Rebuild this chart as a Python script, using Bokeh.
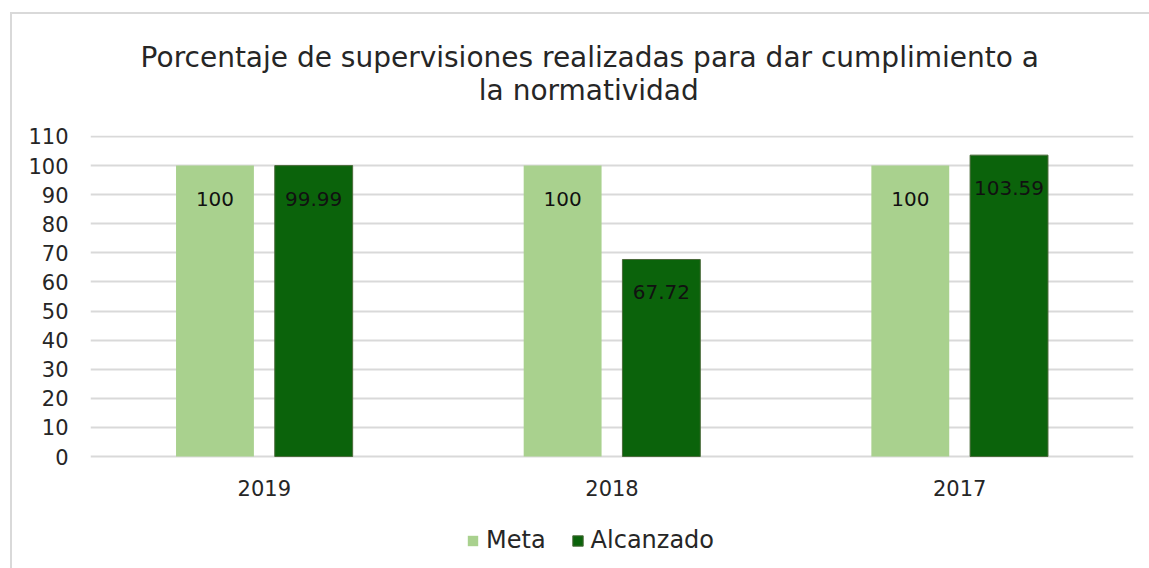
from bokeh.plotting import figure
from bokeh.models import (ColumnDataSource, FactorRange, Range1d, LabelSet, Legend,
                          LegendItem, FixedTicker)
from bokeh.core.properties import value
from bokeh.transform import dodge
from bokeh.embed import file_html
from bokeh.resources import INLINE

years = ["2019", "2018", "2017"]
meta = [100, 100, 100]
alcanzado = [99.99, 67.72, 103.59]
meta_labels = ["100", "100", "100"]
alc_labels = ["99.99", "67.72", "103.59"]
y_ticks = list(range(0, 111, 10))
title_lines = ["Porcentaje de supervisiones realizadas para dar cumplimiento a",
               "la normatividad"]

FONT = "DejaVu Sans"
TXT = "#262626"

src = ColumnDataSource(dict(years=years, meta=meta, alcanzado=alcanzado,
                            base=[0] * len(years),
                            meta_lbl=meta_labels, alc_lbl=alc_labels))

# the frame extends below zero so that the category labels and legend can sit inside it
p = figure(x_range=FactorRange(*years, range_padding=0), y_range=Range1d(-37.8, 110.34),
           frame_width=1043, frame_height=431, output_backend="svg", toolbar_location=None,
           min_border_left=90, min_border_right=16, min_border_top=135, min_border_bottom=2)
p.outline_line_color = None
p.border_fill_color = None
p.styles = {
    "background-image": "linear-gradient(#d9d9d9, #d9d9d9), linear-gradient(#d9d9d9, #d9d9d9)",
    "background-position": "10px 12px, 10px 12px",
    "background-size": "2px 100%, 100% 2px",
    "background-repeat": "no-repeat, no-repeat",
    "background-color": "white",
}

# second line padded with no-break spaces so that both lines appear centred
p.title.text = title_lines[0] + "\u00a0" * 5 + "\n" + "\u00a0" * 38 + title_lines[1]
p.title.align = "center"
p.title.text_font = FONT
p.title.text_font_style = "normal"
p.title.text_font_size = "28px"
p.title.text_line_height = 1.0
p.title.text_color = TXT
p.title.standoff = 58

r1 = p.vbar(x=dodge("years", -0.142, range=p.x_range), top="meta", width=0.224,
            source=src, fill_color="#a9d18e", line_color=None)
r2 = p.vbar(x=dodge("years", 0.142, range=p.x_range), top="alcanzado", width=0.224,
            source=src, fill_color="#0b630b", line_color="#4a6a3a", line_width=1)

for col, lbl, off in (("meta", "meta_lbl", -0.142), ("alcanzado", "alc_lbl", 0.142)):
    ls = LabelSet(x=dodge("years", off, range=p.x_range), y=col, text=lbl, source=src,
                  text_align="center", text_baseline="middle", y_offset=-33,
                  text_font=value(FONT), text_font_size="20px", text_color="#111111")
    p.add_layout(ls)

# category labels under the bars
cat = LabelSet(x="years", y="base", text="years", source=src, text_align="center",
               text_baseline="middle", y_offset=-31, text_font=value(FONT),
               text_font_size="21px", text_color=TXT)
p.add_layout(cat)
p.xaxis.visible = False

p.yaxis.ticker = FixedTicker(ticks=y_ticks)
p.yaxis.axis_line_color = None
p.yaxis.major_tick_line_color = None
p.yaxis.minor_tick_line_color = None
p.yaxis.major_label_text_font = FONT
p.yaxis.major_label_text_font_size = "21px"
p.yaxis.major_label_text_color = TXT
p.yaxis.major_label_standoff = 16

p.xgrid.grid_line_color = None
p.ygrid.grid_line_color = "#d9d9d9"
p.ygrid.grid_line_width = 2

legend = Legend(items=[LegendItem(label="Meta", renderers=[r1]),
                       LegendItem(label="Alcanzado", renderers=[r2])],
                orientation="horizontal", location=(376, 12),
                label_text_font=FONT, label_text_font_size="24px", label_text_color=TXT,
                glyph_width=13, glyph_height=13, label_standoff=7, spacing=25,
                border_line_color=None, background_fill_alpha=0, margin=0, padding=0)
p.add_layout(legend, "center")

open("out.html", "w").write(file_html(p, INLINE))
